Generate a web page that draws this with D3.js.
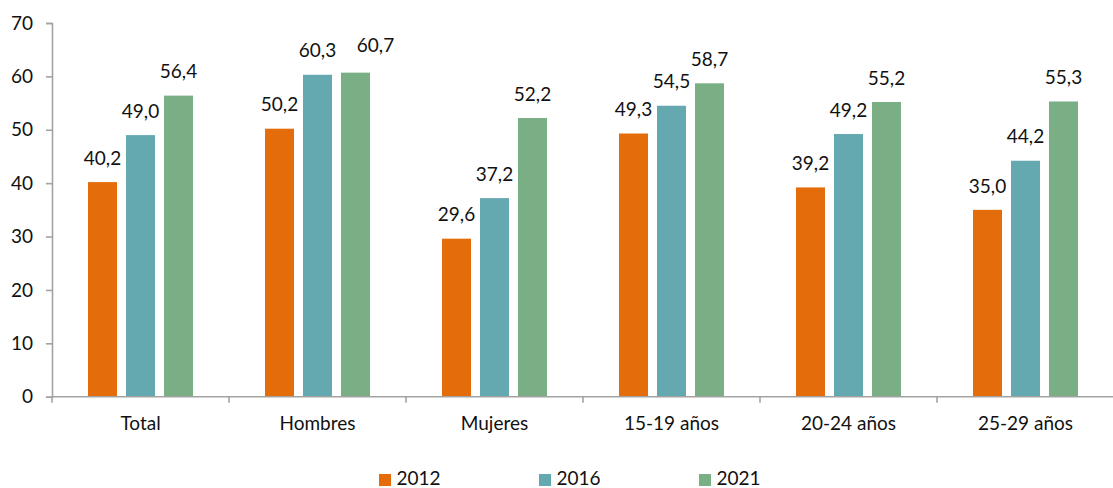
<!DOCTYPE html>
<html>
<head>
<meta charset="utf-8">
<script src="https://cdn.jsdelivr.net/npm/d3@7"></script>
<style>
  html, body { margin: 0; padding: 0; background: #fff; }
  svg { display: block; font-family: Lato, "Open Sans", sans-serif; }
</style>
</head>
<body>
<svg id="chart" width="1113" height="488"></svg>
<script>
// Categories and series values
const categories = ["Total", "Hombres", "Mujeres", "15-19 años", "20-24 años", "25-29 años"];
const seriesNames = ["2012", "2016", "2021"];
const values2012 = [40.2, 50.2, 29.6, 49.3, 39.2, 35.0];
const values2016 = [49.0, 60.3, 37.2, 54.5, 49.2, 44.2];
const values2021 = [56.4, 60.7, 52.2, 58.7, 55.2, 55.3];
const yTicks = [0, 10, 20, 30, 40, 50, 60, 70];

const seriesValues = [values2012, values2016, values2021];
const colors = ["#E46C0A", "#64A8B0", "#7AAF86"];

const svg = d3.select("#chart");
const margin = { left: 52, top: 23 };
const plotBottom = 396.7;

const x0 = d3.scaleBand().domain(categories).range([margin.left, 1114]).padding(0);
const groupWidth = 105;
const x1 = d3.scaleBand().domain(seriesNames).range([0, groupWidth]).paddingInner(0.237).paddingOuter(0);
const groupOffset = (x0.bandwidth() - groupWidth) / 2;
const y = d3.scaleLinear().domain([0, 70]).range([plotBottom, margin.top]);

const fmt = v => d3.format(".1f")(v).replace(".", ",");
const fontSize = 19;
const axisColor = "#a3a3a3";

// Label nudges to keep neighbouring value labels from colliding
const labelShift = (si, ci) => (si === 2 && ci === 1) ? { dx: 20, dy: -3.5 } : { dx: 0, dy: 0 };

// Bars and value labels
const groups = svg.append("g").selectAll("g")
  .data(categories)
  .join("g")
  .attr("transform", c => `translate(${x0(c) + groupOffset},0)`);

seriesNames.forEach((s, si) => {
  groups.append("rect")
    .attr("x", x1(s))
    .attr("width", x1.bandwidth())
    .attr("y", (c, ci) => y(seriesValues[si][ci]))
    .attr("height", (c, ci) => plotBottom - y(seriesValues[si][ci]))
    .attr("fill", colors[si]);
  groups.append("text")
    .attr("x", (c, ci) => x1(s) + x1.bandwidth() / 2 + labelShift(si, ci).dx)
    .attr("y", (c, ci) => y(seriesValues[si][ci]) - 17.3 + labelShift(si, ci).dy)
    .attr("text-anchor", "middle")
    .attr("font-size", fontSize)
    .attr("fill", "#111")
    .text((c, ci) => fmt(seriesValues[si][ci]));
});

// Y axis
const yAxis = svg.append("g")
  .attr("transform", `translate(${margin.left},0)`)
  .call(d3.axisLeft(y).tickValues(yTicks).tickSize(6).tickPadding(13).tickSizeOuter(6));
yAxis.select(".domain").attr("stroke", axisColor).attr("stroke-width", 1.6);
yAxis.selectAll(".tick line").attr("stroke", axisColor).attr("stroke-width", 1.6);
yAxis.selectAll(".tick text")
  .attr("font-size", fontSize).attr("font-family", "Lato, 'Open Sans', sans-serif")
  .attr("fill", "#111");

// X axis with ticks between categories
const xAxisG = svg.append("g").attr("transform", `translate(0,${plotBottom})`);
xAxisG.append("line")
  .attr("x1", margin.left).attr("x2", 1114)
  .attr("stroke", axisColor).attr("stroke-width", 1.6);
const boundaries = categories.map(c => x0(c)).concat([x0(categories[categories.length - 1]) + x0.bandwidth()]);
xAxisG.selectAll("line.tk").data(boundaries).join("line")
  .attr("class", "tk")
  .attr("x1", d => d).attr("x2", d => d)
  .attr("y1", 0).attr("y2", 6)
  .attr("stroke", axisColor).attr("stroke-width", 1.6);
xAxisG.selectAll("text").data(categories).join("text")
  .attr("x", c => x0(c) + x0.bandwidth() / 2)
  .attr("y", 33.5)
  .attr("text-anchor", "middle")
  .attr("font-size", fontSize)
  .attr("fill", "#111")
  .text(c => c);

// Legend
const legend = svg.append("g").attr("transform", "translate(379,0)");
seriesNames.forEach((s, i) => {
  const g = legend.append("g").attr("transform", `translate(${i * 160},0)`);
  g.append("rect").attr("x", 0).attr("y", 474).attr("width", 12).attr("height", 12).attr("fill", colors[i]);
  g.append("text").attr("x", 17.5).attr("y", 485)
    .attr("font-size", fontSize).attr("fill", "#111").text(s);
});
</script>
</body>
</html>
